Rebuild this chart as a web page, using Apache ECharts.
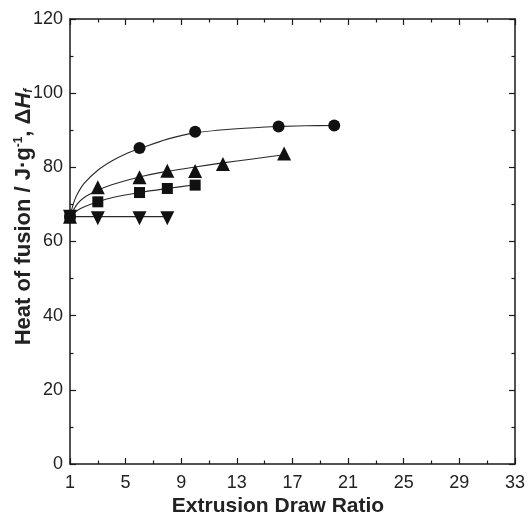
<!DOCTYPE html>
<html>
<head>
<meta charset="utf-8">
<script src="https://cdn.jsdelivr.net/npm/echarts@6/dist/echarts.min.js"></script>
<style>
html,body{margin:0;padding:0;background:#fff;}
#chart{width:528px;height:515px;}
</style>
</head>
<body>
<div id="chart"></div>
<script>
// X tick labels / axis range
var xTicks = [1, 5, 9, 13, 17, 21, 25, 29, 33];
var yTicks = [0, 20, 40, 60, 80, 100, 120];

// Measured data (markers)
var circleX = [1, 6, 10, 16, 20];
var circleY = [66.7, 85.2, 89.6, 91.0, 91.3];
var triUpX = [1, 3, 6, 8, 10, 12, 16.4];
var triUpY = [66.7, 74.6, 77.3, 79.1, 79.0, 80.9, 83.7];
var squareX = [1, 3, 6, 8, 10];
var squareY = [66.7, 70.7, 73.2, 74.3, 75.2];
var triDownX = [1, 3, 6, 8];
var triDownY = [66.7, 66.3, 66.3, 66.3];

// Fitted curves
var circleFitX = [1, 1.25, 1.5, 2, 3, 4, 5, 6, 8, 10, 13, 16, 18, 20];
var circleFitY = [66.7, 70.3, 72.6, 75.6, 79.2, 81.7, 83.6, 85.0, 87.6, 89.3, 90.4, 91.0, 91.2, 91.3];
var triFitX = [1, 1.5, 2, 3, 4, 6, 8, 10, 12, 14, 16.4];
var triFitY = [66.7, 70.0, 71.8, 73.8, 75.3, 77.4, 78.9, 80.1, 81.2, 82.2, 83.4];
var sqFitX = [1, 1.5, 2, 3, 4, 6, 8, 10];
var sqFitY = [66.7, 68.3, 69.3, 70.7, 71.8, 73.2, 74.3, 75.3];
var downFitX = [1, 8];
var downFitY = [66.7, 66.7];

function pairs(xs, ys) { return xs.map(function (x, i) { return [x, ys[i]]; }); }

var chart = echarts.init(document.getElementById('chart'));
var axisColor = '#1a1a1a';
var fontFam = '"Liberation Sans", Arial, Helvetica, sans-serif';

function xAx(pos, show) {
  return {
    type: 'value', position: pos, min: xTicks[0], max: xTicks[xTicks.length - 1], interval: 4,
    axisLine: { show: true, onZero: false, lineStyle: { color: axisColor, width: 1.5 } },
    axisTick: { show: true, inside: true, length: 6, lineStyle: { color: axisColor, width: 1.2 } },
    minorTick: { show: true, splitNumber: 2, length: 3.5, lineStyle: { color: axisColor, width: 1.2 } },
    axisLabel: { show: show, color: '#222', fontSize: 18, fontFamily: fontFam, margin: 10 },
    splitLine: { show: false }
  };
}
function yAx(pos, show) {
  return {
    type: 'value', position: pos, min: yTicks[0], max: yTicks[yTicks.length - 1], interval: 20,
    axisLine: { show: true, onZero: false, lineStyle: { color: axisColor, width: 1.5 } },
    axisTick: { show: true, inside: true, length: 6, lineStyle: { color: axisColor, width: 1.2 } },
    minorTick: { show: true, splitNumber: 2, length: 3.5, lineStyle: { color: axisColor, width: 1.2 } },
    axisLabel: { show: show, color: '#222', fontSize: 18, fontFamily: fontFam, margin: 7 },
    splitLine: { show: false }
  };
}

function fitSeries(xs, ys) {
  return {
    type: 'line', xAxisIndex: 0, yAxisIndex: 0, data: pairs(xs, ys), smooth: 0.3,
    showSymbol: false, symbol: 'none', z: 2,
    lineStyle: { color: '#2a2a2a', width: 1.1 }
  };
}
function markSeries(xs, ys, symbol, size, rot) {
  return {
    type: 'scatter', xAxisIndex: 0, yAxisIndex: 0, data: pairs(xs, ys), symbol: symbol,
    symbolSize: size, symbolRotate: rot || 0, z: 3,
    itemStyle: { color: '#111', opacity: 1 }
  };
}

chart.setOption({
  animation: false,
  backgroundColor: '#fff',
  grid: { left: 70, right: 12, top: 19, bottom: 51 },
  xAxis: [xAx('bottom', true), xAx('top', false)],
  yAxis: [yAx('left', true), yAx('right', false)],
  graphic: [
    {
      type: 'text', x: 278, y: 506,
      style: {
        text: 'Extrusion Draw Ratio', fontSize: 21, fontWeight: 'bold', fontFamily: fontFam,
        fill: '#222', align: 'center', verticalAlign: 'middle'
      }
    },
    {
      type: 'text', x: 24, y: 217, rotation: Math.PI / 2,
      style: {
        text: '{n|Heat of fusion / J·g}{s|-1}{n|, Δ}{i|H}{b|f}',
        align: 'center', verticalAlign: 'middle', fill: '#222',
        rich: {
          n: { fontSize: 22, fontWeight: 'bold', fontFamily: fontFam, fill: '#222', verticalAlign: 'bottom' },
          i: { fontSize: 22, fontWeight: 'bold', fontStyle: 'italic', fontFamily: fontFam, fill: '#222', verticalAlign: 'bottom' },
          s: { fontSize: 12, fontWeight: 'bold', fontFamily: fontFam, fill: '#222', verticalAlign: 'top', padding: [0, 0, 9, 0] },
          b: { fontSize: 12, fontWeight: 'bold', fontStyle: 'italic', fontFamily: fontFam, fill: '#222', verticalAlign: 'bottom', padding: [6, 0, 0, 0] }
        }
      }
    }
  ],
  series: [
    fitSeries(circleFitX, circleFitY),
    fitSeries(triFitX, triFitY),
    fitSeries(sqFitX, sqFitY),
    fitSeries(downFitX, downFitY),
    markSeries(circleX, circleY, 'circle', 12),
    markSeries(triUpX, triUpY, 'triangle', 14),
    markSeries(squareX, squareY, 'rect', 11),
    markSeries(triDownX, triDownY, 'triangle', 14, 180)
  ]
});
</script>
</body>
</html>
